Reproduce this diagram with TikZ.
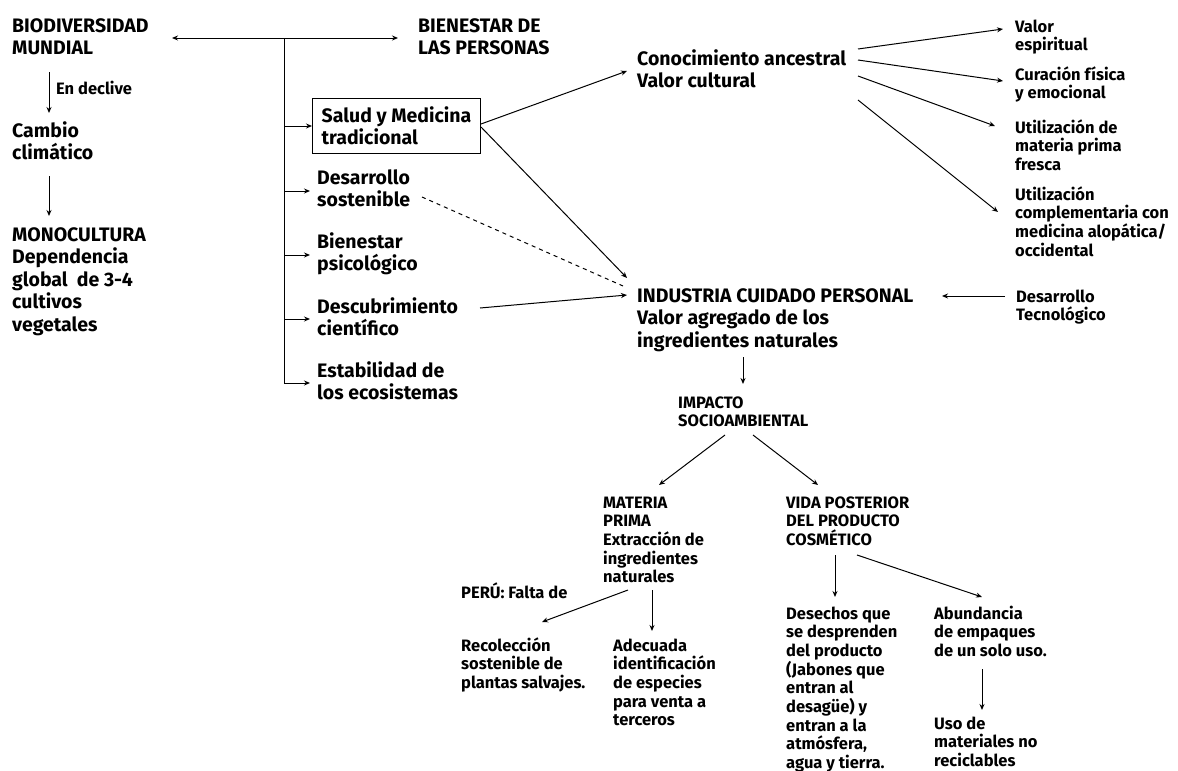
\documentclass[tikz,border=0pt]{standalone}
\usepackage{fontspec}
\setmainfont{Fira Sans}[UprightFont={* SemiBold}, BoldFont={* Bold}]
\usetikzlibrary{arrows.meta}
% multi-line text, fixed line pitch, baseline of its first line
\newcommand{\tx}[1]{\vtop{\def\\{\cr}\lineskiplimit=-100pt\halign{##\hfil\cr#1\crcr}}}
\tikzset{
  big/.style={font=\fontsize{19.5}{22.5}\selectfont\bfseries, inner sep=0pt, anchor=base west},
  small/.style={font=\fontsize{16.5}{18.7}\selectfont\bfseries, inner sep=0pt, anchor=base west},
  arr/.style={-{Stealth[length=6pt,width=5pt]}, line width=1pt},
  link/.style={line width=1pt},
}
\begin{document}
\begin{tikzpicture}[x=1pt,y=-1pt]
\useasboundingbox[fill=white] (0,0) rectangle (1178,771);

% left column
\node[big] (bio) at (12,32) {\tx{BIODIVERSIDAD\\MUNDIAL}};
\node[big] (bien) at (418,32) {\tx{BIENESTAR DE\\LAS PERSONAS}};
\node[small] (decl) at (56,94) {En declive};
\node[big] (camb) at (12,137) {\tx{Cambio\\climático}};
\node[big] (mono) at (12,241) {\tx{MONOCULTURA\\Dependencia\\global\ \ de 3-4\\cultivos\\vegetales}};

% branches of well-being
\node[big, draw, anchor=north west, minimum width=168, minimum height=55, line width=1pt] (salud) at (312,98) {\tx{Salud y Medicina\\tradicional}};
\node[big] (desa) at (317,184) {\tx{Desarrollo\\sostenible}};
\node[big] (psico) at (317,248) {\tx{Bienestar\\psicológico}};
\node[big] (descu) at (317,313) {\tx{Descubrimiento\\científico}};
\node[big] (estab) at (317,377) {\tx{Estabilidad de\\los ecosistemas}};

% traditional knowledge
\node[big] (cono) at (637,65) {\tx{Conocimiento ancestral\\Valor cultural}};
\node[small] (valor) at (1015,32) {\tx{Valor\\espiritual}};
\node[small] (cura) at (1015,80) {\tx{Curación física\\y emocional}};
\node[small] (util1) at (1015,133) {\tx{Utilización de\\materia prima\\fresca}};
\node[small] (util2) at (1015,200) {\tx{Utilización\\complementaria con\\medicina alopática/\\occidental}};

% industry
\node[big] (indu) at (637,302) {\tx{INDUSTRIA CUIDADO PERSONAL\\Valor agregado de los\\ingredientes naturales}};
\node[small] (tecno) at (1016,302) {\tx{Desarrollo\\Tecnológico}};
\node[small] (imp) at (678,408) {\tx{IMPACTO\\SOCIOAMBIENTAL}};
\node[small] (mat) at (603,508) {\tx{MATERIA\\PRIMA\\Extracción de\\ingredientes\\naturales}};
\node[small] (vida) at (786,508) {\tx{VIDA POSTERIOR\\DEL PRODUCTO\\COSMÉTICO}};
\node[small] (peru) at (461,598) {PERÚ: Falta de};
\node[small] (reco) at (461,651) {\tx{Recolección\\sostenible de\\plantas salvajes.}};
\node[small] (adec) at (613,651) {\tx{Adecuada\\identificación\\de especies\\para venta a\\terceros}};
\node[small] (dese) at (786,619) {\tx{Desechos que\\se desprenden\\del producto\\(Jabones que\\entran al\\desagüe) y\\entran a la\\atmósfera,\\agua y tierra.}};
\node[small] (abun) at (934,619) {\tx{Abundancia\\de empaques\\de un solo uso.}};
\node[small] (uso) at (934,729) {\tx{Uso de\\materiales no\\reciclables}};

% connectors: left column
\draw[arr, {Stealth[length=6pt,width=5pt]}-{Stealth[length=6pt,width=5pt]}]
  ([xshift=160,yshift=-6]bio.base west) -- ([xshift=-20,yshift=-6]bien.base west);
\coordinate (hub) at (284,38);
\draw[arr] ([xshift=37,yshift=-40]bio.base west) -- ([xshift=37,yshift=24]camb.base west);
\draw[arr] ([xshift=37,yshift=-39]camb.base west) -- ([xshift=37,yshift=25]mono.base west);

% connectors: hub to branches
\draw[arr] (hub) |- ([xshift=-7,yshift=-6]estab.base west);
\draw[arr] (hub |- salud.west) -- (salud.west);
\draw[arr] (hub |- desa.base west) ++(0,7) -- ([xshift=-7,yshift=-7]desa.base west);
\draw[arr] (hub |- psico.base west) ++(0,7) -- ([xshift=-7,yshift=-7]psico.base west);
\draw[arr] (hub |- descu.base west) ++(0,6) -- ([xshift=-7,yshift=-6]descu.base west);

% connectors: toward knowledge and industry
\draw[arr] ([yshift=2]salud.east) -- ([xshift=-10,yshift=-6]cono.base west);
\draw[arr] ([yshift=-1]salud.east) -- ([xshift=-10,yshift=24]indu.base west);
\draw[link, dashed, dash pattern=on 4pt off 4pt] ([xshift=105,yshift=-13]desa.base west) -- ([xshift=-14,yshift=16]indu.base west);
\draw[arr] ([xshift=163,yshift=5]descu.base west) -- ([xshift=-10,yshift=7]indu.base west);
\draw[arr] ([xshift=-11,yshift=6]tecno.base west) -- ([xshift=305,yshift=6]indu.base west);

% connectors: knowledge outcomes
\draw[arr] ([xshift=221,yshift=16]cono.base west) -- ([xshift=-12,yshift=3]valor.base west);
\draw[arr] ([xshift=221,yshift=5]cono.base west) -- ([xshift=-12,yshift=-1]cura.base west);
\draw[arr] ([xshift=221,yshift=-11]cono.base west) -- ([xshift=-20,yshift=7]util1.base west);
\draw[arr] ([xshift=221,yshift=-35]cono.base west) -- ([xshift=-17,yshift=-12]util2.base west);

% connectors: impact tree
\draw[arr] ([xshift=106,yshift=-55]indu.base west) -- ([xshift=65,yshift=24]imp.base west);
\draw[arr] ([xshift=47,yshift=-27]imp.base west) -- ([xshift=56,yshift=23]mat.base west);
\draw[arr] ([xshift=75,yshift=-27]imp.base west) -- ([xshift=32,yshift=23]vida.base west);
\draw[arr] ([xshift=25,yshift=-82]mat.base west) -- ([xshift=81,yshift=29]reco.base west);
\draw[arr] ([xshift=49,yshift=-82]mat.base west) -- ([xshift=39,yshift=20]adec.base west);
\draw[arr] ([xshift=49,yshift=-47]vida.base west) -- ([xshift=49,yshift=22]dese.base west);
\draw[arr] ([xshift=71,yshift=-47]vida.base west) -- ([xshift=48,yshift=22]abun.base west);
\draw[arr] ([xshift=48,yshift=-50]abun.base west) -- ([xshift=48,yshift=19]uso.base west);
\end{tikzpicture}
\end{document}
